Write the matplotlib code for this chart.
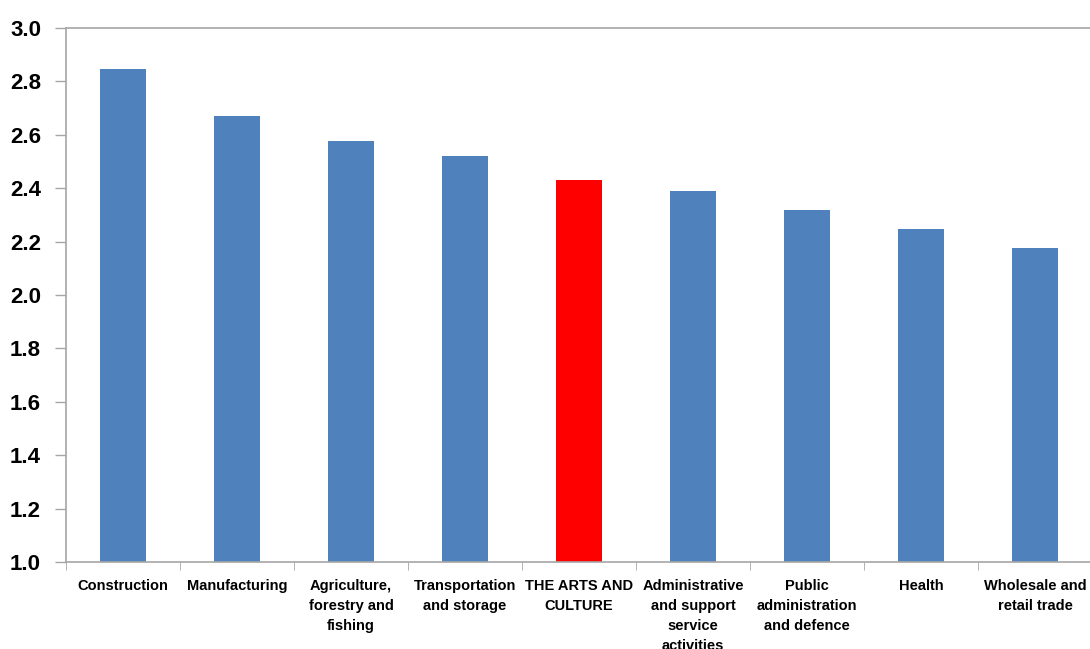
import matplotlib
matplotlib.use("Agg")
import matplotlib.pyplot as plt
import numpy as np

# data
categories = ["Construction", "Manufacturing", "Agriculture,\nforestry and\nfishing",
              "Transportation\nand storage", "THE ARTS AND\nCULTURE",
              "Administrative\nand support\nservice\nactivities",
              "Public\nadministration\nand defence", "Health",
              "Wholesale and\nretail trade"]
values = [2.845, 2.671, 2.578, 2.522, 2.432, 2.391, 2.319, 2.248, 2.177]
highlight = "THE ARTS AND\nCULTURE"
y_ticks = [1.0, 1.2, 1.4, 1.6, 1.8, 2.0, 2.2, 2.4, 2.6, 2.8, 3.0]

plt.rcParams['font.family'] = ['Liberation Sans', 'DejaVu Sans']

fig = plt.figure(figsize=(10.9, 6.49), dpi=100)
ax = fig.add_axes([66 / 1090, 87 / 649, 1 - 66 / 1090 + 0.002, (562 - 28) / 649])

x = np.arange(len(categories))
colors = ['#FF0000' if c == highlight else '#4F81BD' for c in categories]
ax.bar(x, np.array(values) - 1.0, bottom=1.0, width=0.4, color=colors, zorder=2)

ax.set_ylim(1.0, 3.0)
ax.set_xlim(-0.5, len(categories) - 0.5)
ax.set_yticks(y_ticks)
ax.set_yticklabels([f"{v:.1f}" for v in y_ticks], fontsize=16, fontweight='bold')

# category labels between boundary ticks
ax.set_xticks(x)
ax.set_xticklabels(categories, fontsize=10.5, fontweight='bold', linespacing=1.55)
ax.tick_params(axis='x', length=0, pad=12)
ax.set_xticks(np.arange(len(categories) + 1) - 0.5, minor=True)
ax.tick_params(axis='x', which='minor', length=6, color='#A6A6A6', direction='out')
ax.tick_params(axis='y', length=8, color='#A6A6A6', width=1, pad=10)

for side in ['left', 'bottom', 'top']:
    ax.spines[side].set_color('#A6A6A6')
    ax.spines[side].set_linewidth(1.2)
ax.spines['right'].set_visible(False)

plt.savefig("out.png", dpi=100)
plt.close()
